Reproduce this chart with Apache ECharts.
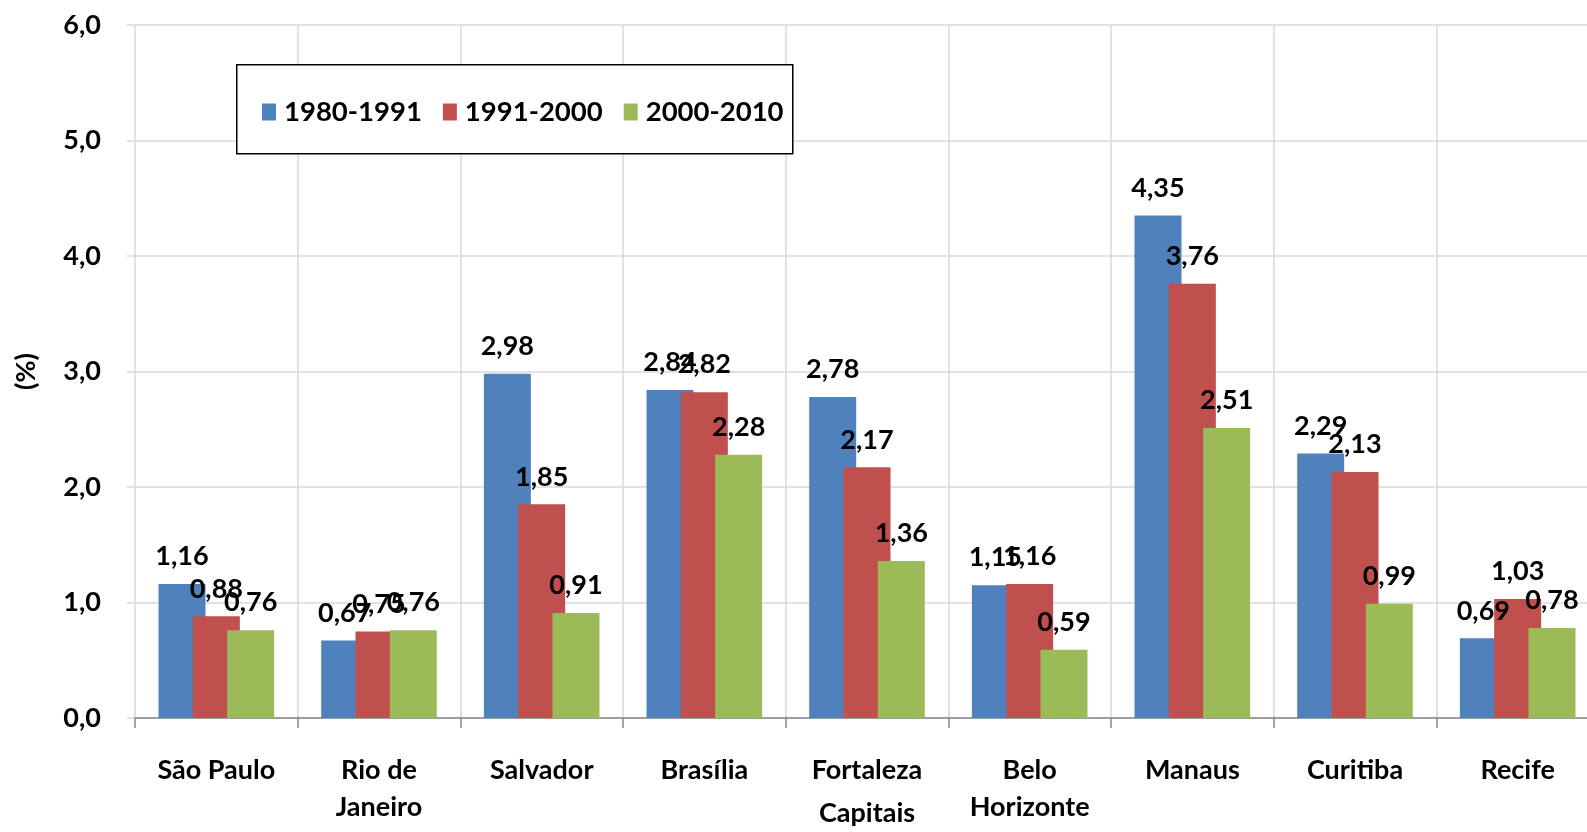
<!DOCTYPE html>
<html>
<head>
<meta charset="utf-8">
<title>Crescimento populacional das capitais</title>
<script src="https://cdn.jsdelivr.net/npm/echarts@6/dist/echarts.min.js"></script>
<style>
  html, body { margin: 0; padding: 0; background: #ffffff; }
  #chart { width: 1587px; height: 832px; }
</style>
</head>
<body>
<div id="chart"></div>
<script>
// dados
const capitais = ['São Paulo', 'Rio de\nJaneiro', 'Salvador', 'Brasília', 'Fortaleza', 'Belo\nHorizonte', 'Manaus', 'Curitiba', 'Recife']
const periodos = ['1980-1991', '1991-2000', '2000-2010']
const taxa8091 = [1.16, 0.67, 2.98, 2.84, 2.78, 1.15, 4.35, 2.29, 0.69]
const taxa9100 = [0.88, 0.75, 1.85, 2.82, 2.17, 1.16, 3.76, 2.13, 1.03]
const taxa0010 = [0.76, 0.76, 0.91, 2.28, 1.36, 0.59, 2.51, 0.99, 0.78]
const cores = ['#4F81BD', '#C0504D', '#9BBB59']

const fonte = 'Lato, "Open Sans", sans-serif'
const virgula = (v, d) => v.toFixed(d).replace('.', ',')

const chart = echarts.init(document.getElementById('chart'))

function serie (nome, dados, cor) {
  return {
    name: nome,
    type: 'bar',
    data: dados,
    barWidth: 47,
    barGap: '-27%',
    itemStyle: { color: cor },
    label: {
      show: true,
      position: 'top',
      distance: 14,
      color: '#000',
      fontFamily: fonte,
      fontWeight: 'bold',
      fontSize: 27,
      formatter: p => virgula(p.value, 2)
    }
  }
}

const option = {
  animation: false,
  backgroundColor: '#ffffff',
  textStyle: { fontFamily: fonte },
  color: cores,
  grid: {
    left: 135,
    top: 25,
    width: 1464,
    height: 693,
    containLabel: false,
    outerBoundsMode: 'none'
  },
  // caixa da legenda
  graphic: [{
    type: 'rect',
    left: 236,
    top: 64,
    shape: { width: 556, height: 89 },
    style: { fill: '#fff', stroke: '#000', lineWidth: 1.5 },
    z: 5
  }],
  legend: {
    left: 257,
    top: 93,
    z: 10,
    itemWidth: 14,
    itemHeight: 17,
    itemGap: 21,
    icon: 'rect',
    data: periodos,
    textStyle: { fontSize: 27.5, fontWeight: 'bold', color: '#000', fontFamily: fonte, padding: [0, 0, 0, 3] }
  },
  xAxis: {
    type: 'category',
    data: capitais,
    name: 'Capitais',
    nameLocation: 'middle',
    nameGap: 82,
    nameMoveOverlap: false,
    nameTextStyle: { fontSize: 27, fontWeight: 'bold', color: '#000', fontFamily: fonte },
    axisLine: { lineStyle: { color: '#868686', width: 1.5 } },
    axisTick: { show: true, length: 10, lineStyle: { color: '#868686', width: 1.5 } },
    axisLabel: {
      interval: 0,
      margin: 34,
      fontSize: 27,
      lineHeight: 37,
      fontWeight: 'bold',
      color: '#000',
      fontFamily: fonte
    },
    splitLine: { show: true, lineStyle: { color: '#d9d9d9', width: 1.5 } }
  },
  yAxis: {
    type: 'value',
    min: 0,
    max: 6,
    interval: 1,
    name: '(%)',
    nameLocation: 'middle',
    nameGap: 95,
    nameMoveOverlap: false,
    nameTextStyle: { fontSize: 27, fontWeight: 'bold', color: '#000', fontFamily: fonte },
    axisLine: { show: false },
    axisTick: { show: true, length: 8, lineStyle: { color: '#d9d9d9', width: 1.5 } },
    axisLabel: {
      margin: 34,
      fontSize: 27,
      fontWeight: 'bold',
      color: '#000',
      fontFamily: fonte,
      formatter: v => virgula(v, 1)
    },
    splitLine: { lineStyle: { color: '#d9d9d9', width: 1.5 } }
  },
  series: [
    serie(periodos[0], taxa8091, cores[0]),
    serie(periodos[1], taxa9100, cores[1]),
    serie(periodos[2], taxa0010, cores[2])
  ]
}

chart.setOption(option)
</script>
</body>
</html>
